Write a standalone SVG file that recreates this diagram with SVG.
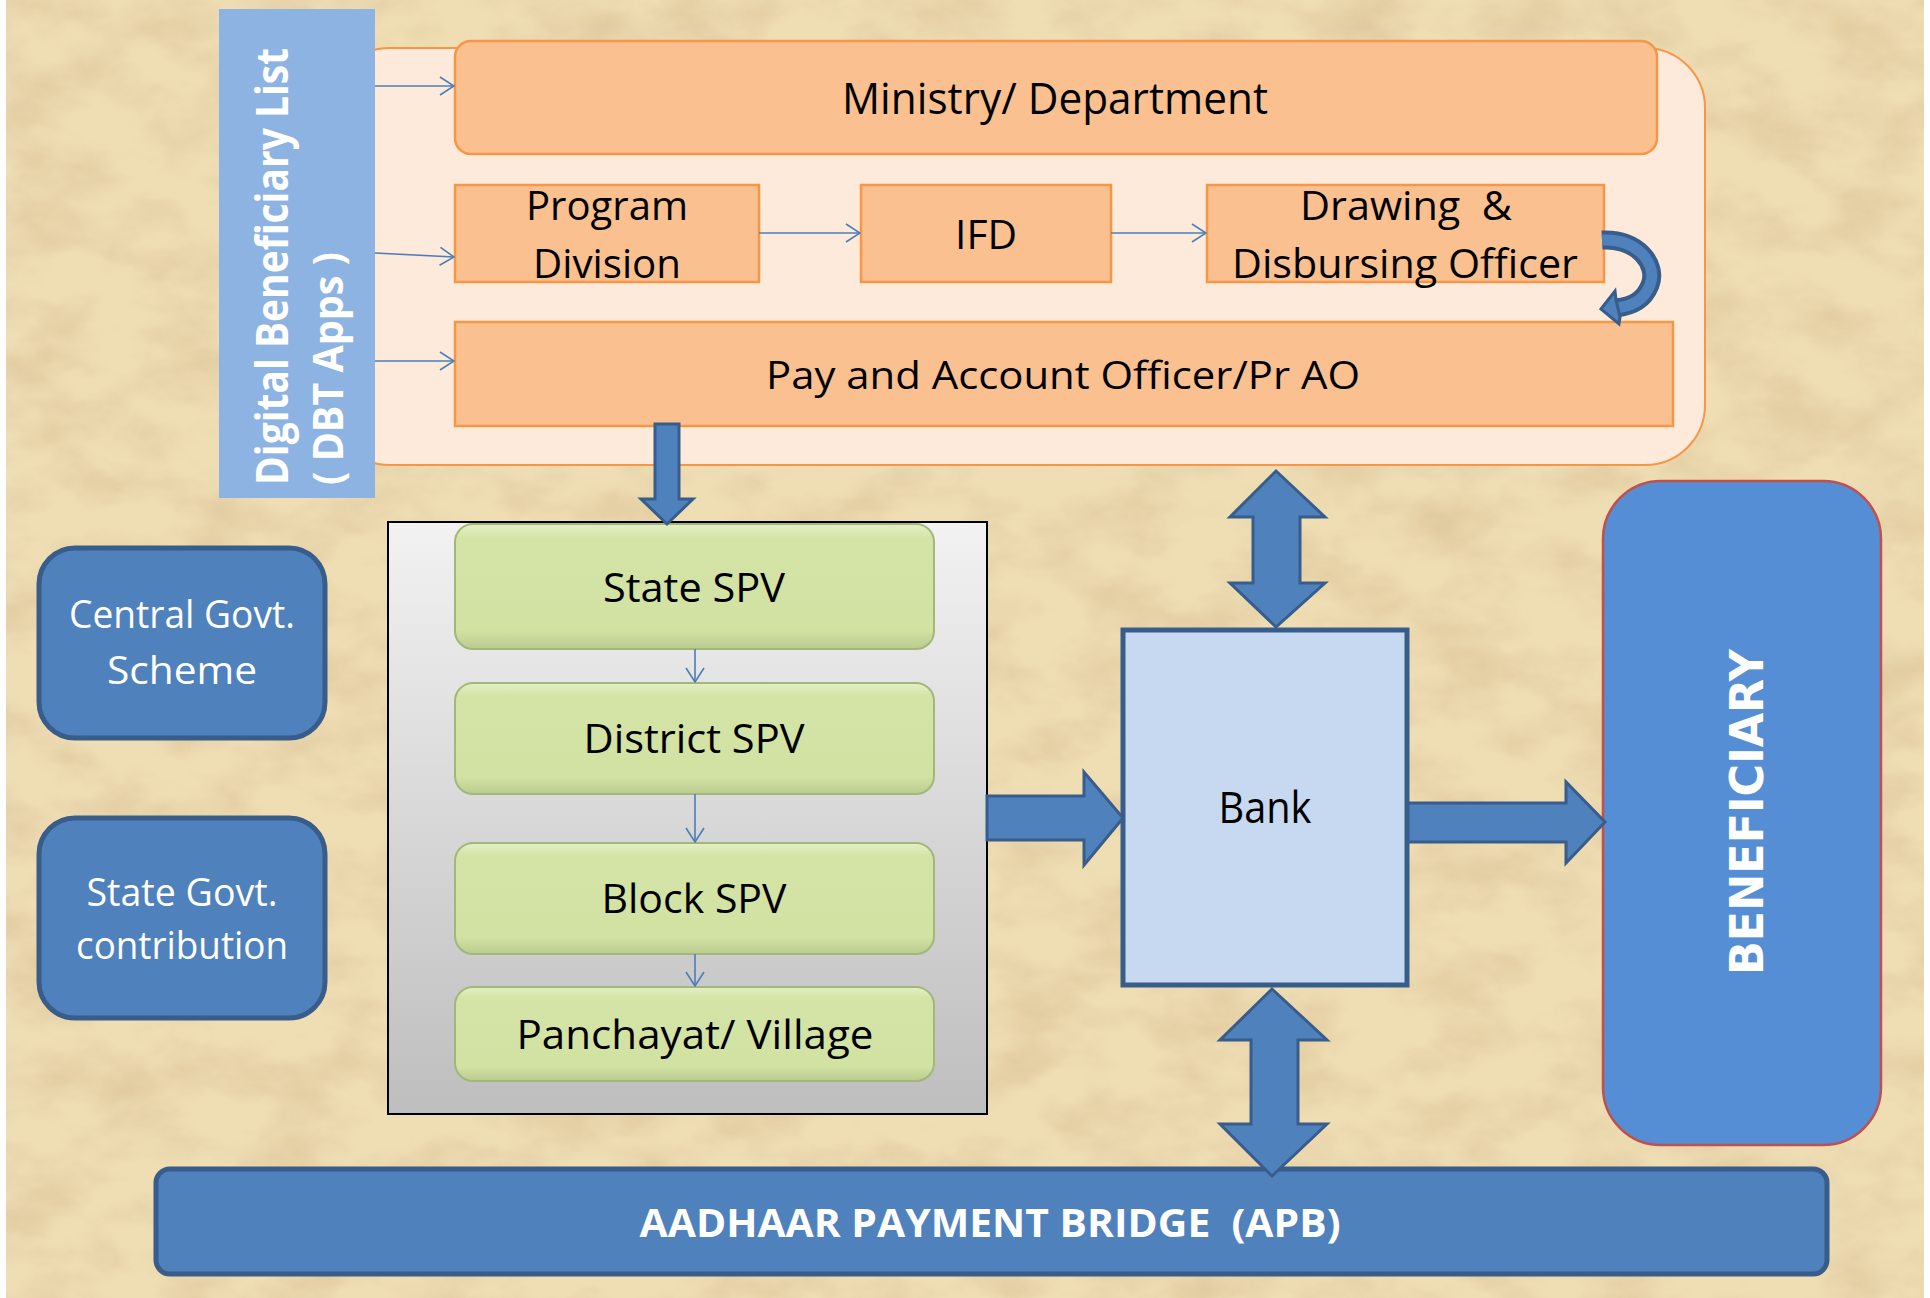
<svg xmlns="http://www.w3.org/2000/svg" width="1930" height="1298" viewBox="0 0 1930 1298">
<defs>
<style>
.t{font-family:"Open Sans","Liberation Sans",sans-serif;fill:#000;}
.w{font-family:"Open Sans","Liberation Sans",sans-serif;fill:#fff;}
.b{font-weight:bold;}
.org{fill:#FAC090;stroke:#F79646;stroke-width:2.5;}
.grn{fill:url(#gGreen);stroke:#A3B779;stroke-width:2;}
.blu{fill:#4F81BD;stroke:#385D8A;stroke-width:5;}
.ba{fill:#4F81BD;stroke:#385D8A;stroke-width:3;stroke-linejoin:miter;}
.thin{fill:none;stroke:#4A7EBB;stroke-width:1.6;marker-end:url(#open);}
</style>
<marker id="open" viewBox="0 0 16 20" refX="15" refY="10" markerWidth="16" markerHeight="20" markerUnits="userSpaceOnUse" orient="auto">
<path d="M1,1 L15,10 L1,19" fill="none" stroke="#4A7EBB" stroke-width="1.6"/>
</marker>
<linearGradient id="gGreen" x1="0" y1="0" x2="0" y2="1">
<stop offset="0" stop-color="#E4EFC4"/>
<stop offset="0.12" stop-color="#D3E4A6"/>
<stop offset="0.85" stop-color="#D1E2A3"/>
<stop offset="1" stop-color="#B9CC8E"/>
</linearGradient>
<linearGradient id="gGray" x1="0" y1="0" x2="0" y2="1">
<stop offset="0" stop-color="#F2F2F2"/>
<stop offset="1" stop-color="#BEBEBE"/>
</linearGradient>
<filter id="tex" x="0" y="0" width="100%" height="100%">
<feTurbulence type="fractalNoise" baseFrequency="0.012 0.02" numOctaves="4" seed="7"/>
<feColorMatrix type="matrix" values="0 0 0 0 0.70  0 0 0 0 0.53  0 0 0 0 0.30  1.5 0 0 0 -0.58"/>
</filter>
</defs>
<rect x="0" y="0" width="1930" height="1298" fill="#ffffff"/>
<rect x="6" y="0" width="1918" height="1298" fill="#EFDDB4"/>
<rect x="6" y="0" width="1918" height="1298" filter="url(#tex)" opacity="0.85"/>

<g id="container">
<rect x="330" y="48" width="1375" height="417" rx="60" ry="60" fill="#FDEADA" stroke="#F79646" stroke-width="2"/>
</g>

<g id="dbt">
<rect x="219" y="9" width="156" height="489" fill="#8DB3E2"/>
<text class="w b" font-size="44" transform="translate(288,485) rotate(-90)" textLength="437" lengthAdjust="spacingAndGlyphs">Digital Beneficiary List</text>
<text class="w b" font-size="42" transform="translate(343,485) rotate(-90)" textLength="233" lengthAdjust="spacingAndGlyphs">( DBT Apps )</text>
</g>

<g id="ministry">
<rect class="org" x="455" y="41" width="1202" height="113" rx="16"/>
<text class="t" font-size="43" x="1055" y="114" text-anchor="middle" textLength="426" lengthAdjust="spacingAndGlyphs">Ministry/ Department</text>
</g>

<g id="program">
<rect class="org" x="455" y="185" width="304" height="97"/>
<text class="t" font-size="40" x="607" y="220" text-anchor="middle" textLength="162" lengthAdjust="spacingAndGlyphs">Program</text>
<text class="t" font-size="40" x="607" y="278" text-anchor="middle" textLength="148" lengthAdjust="spacingAndGlyphs">Division</text>
</g>

<g id="ifd">
<rect class="org" x="861" y="185" width="250" height="97"/>
<text class="t" font-size="40" x="986" y="249" text-anchor="middle" textLength="62" lengthAdjust="spacingAndGlyphs">IFD</text>
</g>

<g id="ddo">
<rect class="org" x="1207" y="185" width="397" height="97"/>
<text class="t" font-size="40" x="1406" y="220" text-anchor="middle" textLength="212" lengthAdjust="spacingAndGlyphs" style="white-space:pre">Drawing  &amp;</text>
<text class="t" font-size="40" x="1405" y="278" text-anchor="middle" textLength="346" lengthAdjust="spacingAndGlyphs">Disbursing Officer</text>
</g>

<g id="pao">
<rect class="org" x="455" y="322" width="1218" height="104"/>
<text class="t" font-size="39" x="1063" y="389" text-anchor="middle" textLength="594" lengthAdjust="spacingAndGlyphs">Pay and Account Officer/Pr AO</text>
</g>

<g id="spvpanel">
<rect x="388" y="522" width="599" height="592" fill="url(#gGray)" stroke="#000" stroke-width="2"/>
</g>

<g id="state-spv">
<rect class="grn" x="455" y="524" width="479" height="125" rx="18"/>
<text class="t" font-size="41" x="694" y="602" text-anchor="middle" textLength="182" lengthAdjust="spacingAndGlyphs">State SPV</text>
</g>
<g id="district-spv">
<rect class="grn" x="455" y="683" width="479" height="111" rx="18"/>
<text class="t" font-size="41" x="694" y="753" text-anchor="middle" textLength="221" lengthAdjust="spacingAndGlyphs">District SPV</text>
</g>
<g id="block-spv">
<rect class="grn" x="455" y="843" width="479" height="111" rx="18"/>
<text class="t" font-size="41" x="694" y="913" text-anchor="middle" textLength="185" lengthAdjust="spacingAndGlyphs">Block SPV</text>
</g>
<g id="panchayat">
<rect class="grn" x="455" y="987" width="479" height="94" rx="18"/>
<text class="t" font-size="41" x="695" y="1049" text-anchor="middle" textLength="357" lengthAdjust="spacingAndGlyphs">Panchayat/ Village</text>
</g>

<g id="central">
<rect class="blu" x="39" y="548" width="286" height="190" rx="36"/>
<text class="w" font-size="38" x="182" y="628" text-anchor="middle" textLength="226" lengthAdjust="spacingAndGlyphs">Central Govt.</text>
<text class="w" font-size="38" x="182" y="684" text-anchor="middle" textLength="150" lengthAdjust="spacingAndGlyphs">Scheme</text>
</g>

<g id="stategovt">
<rect class="blu" x="39" y="818" width="286" height="200" rx="36"/>
<text class="w" font-size="38" x="182" y="906" text-anchor="middle" textLength="191" lengthAdjust="spacingAndGlyphs">State Govt.</text>
<text class="w" font-size="38" x="182" y="959" text-anchor="middle" textLength="212" lengthAdjust="spacingAndGlyphs">contribution</text>
</g>

<g id="bank">
<rect x="1123" y="630" width="284" height="355" fill="#C6D9F1" stroke="#385D8A" stroke-width="5"/>
<text class="t" font-size="43" x="1265" y="823" text-anchor="middle" textLength="93" lengthAdjust="spacingAndGlyphs">Bank</text>
</g>

<g id="beneficiary">
<rect x="1603" y="481" width="278" height="664" rx="58" fill="#558ED5" stroke="#C0504D" stroke-width="2.5"/>
<text class="w b" font-size="46" style="font-family:'DejaVu Sans','Liberation Sans',sans-serif" transform="translate(1763,812) rotate(-90)" text-anchor="middle" textLength="326" lengthAdjust="spacingAndGlyphs">BENEFICIARY</text>
</g>

<g id="apb">
<rect class="blu" x="156" y="1169" width="1671" height="105" rx="14"/>
<text class="w b" font-size="40" x="990" y="1237" text-anchor="middle" textLength="701" lengthAdjust="spacingAndGlyphs" style="white-space:pre">AADHAAR PAYMENT BRIDGE  (APB)</text>
</g>

<g id="connectors">
<line class="thin" x1="375" y1="86" x2="454" y2="86"/>
<line class="thin" x1="375" y1="253" x2="454" y2="257"/>
<line class="thin" x1="375" y1="361" x2="454" y2="361"/>
<line class="thin" x1="759" y1="233" x2="860" y2="233"/>
<line class="thin" x1="1111" y1="233" x2="1206" y2="233"/>
<line class="thin" x1="695" y1="649" x2="695" y2="682"/>
<line class="thin" x1="695" y1="794" x2="695" y2="842"/>
<line class="thin" x1="695" y1="954" x2="695" y2="986"/>
<path d="M1602,240 C1638,238 1658,265 1650,285 C1644,300 1633,306 1616,308" fill="none" stroke="#385D8A" stroke-width="19"/>
<path d="M1602,240 C1638,238 1658,265 1650,285 C1644,300 1633,306 1616,308" fill="none" stroke="#4F81BD" stroke-width="11"/>
<polygon class="ba" points="1601,309 1615,291 1616,300 1620,317 1619,324"/>
<polygon class="ba" points="655,424 679,424 679,499 693,499 667,524 641,499 655,499"/>
<polygon class="ba" points="1276,471 1325,517 1300,517 1300,583 1325,583 1276,627 1230,583 1253,583 1253,517 1230,517"/>
<polygon class="ba" points="1272,989 1327,1040 1298,1040 1298,1124 1327,1124 1272,1176 1220,1124 1251,1124 1251,1040 1220,1040"/>
<polygon class="ba" points="987,796 1084,796 1084,772 1123,818 1084,865 1084,840 987,840"/>
<polygon class="ba" points="1408,803 1566,803 1566,782 1605,822 1566,863 1566,842 1408,842"/>
</g>
</svg>
